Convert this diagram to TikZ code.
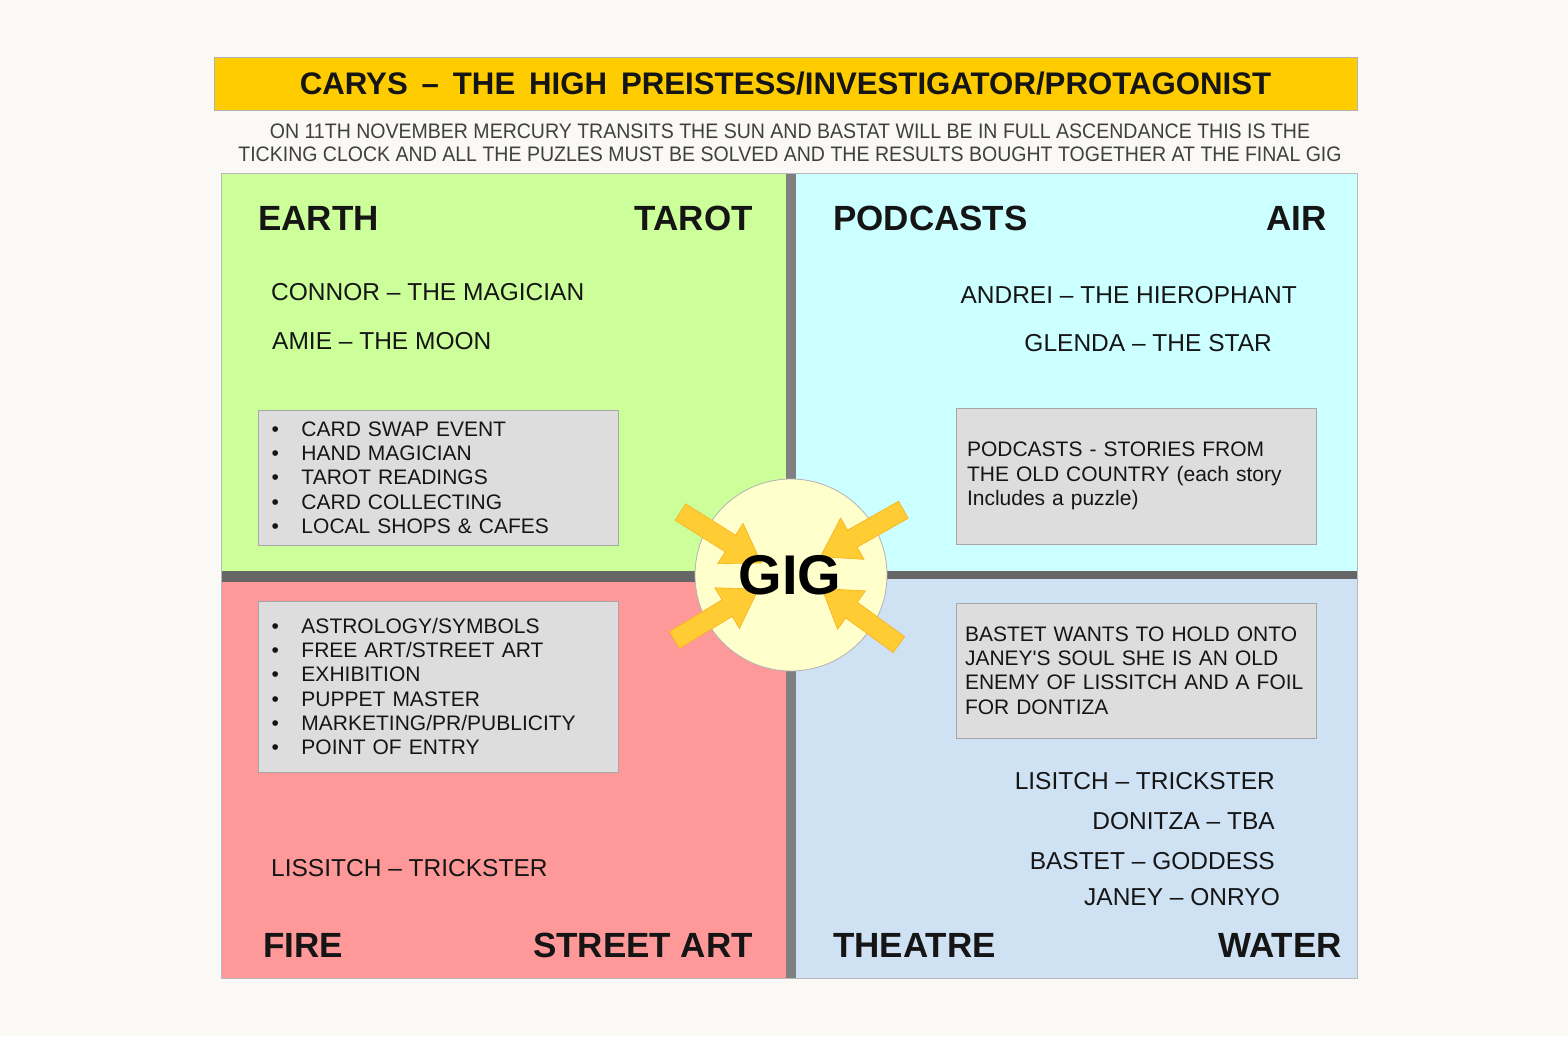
\documentclass[tikz,border=0pt]{standalone}
\usepackage{fontspec}
\setmainfont{Liberation Sans}
\newfontfamily\narrowsans{Liberation Sans}[FakeStretch=0.93]
\usepackage{tikz}
\usetikzlibrary{calc, shapes, shapes.arrows, arrows.meta}
\tikzset{>=latex}
\definecolor{paper}{HTML}{FAF9F5}
\definecolor{titleyellow}{HTML}{FFCC00}
\definecolor{earthgreen}{HTML}{CCFF99}
\definecolor{aircyan}{HTML}{CCFFFF}
\definecolor{firered}{HTML}{FF9999}
\definecolor{waterblue}{HTML}{CFE2F3}
\definecolor{notegray}{HTML}{DDDDDD}
\definecolor{bardark}{HTML}{666666}
\definecolor{barmid}{HTML}{808080}
\definecolor{gigcream}{HTML}{FFFFCC}
\definecolor{arrowgold}{HTML}{FFCC33}
\definecolor{arrowedge}{HTML}{F5B21F}
\definecolor{ink}{HTML}{151515}
\newcommand\bul{\hspace*{5pt}\makebox[30pt][l]{\textbullet}}
\tikzset{
  element/.style={font=\bfseries\fontsize{35}{40}\selectfont, text=ink, inner sep=0pt},
  person/.style={font=\fontsize{24.5}{28}\selectfont, text=ink, inner sep=0pt},
  notebox/.style={rectangle, fill=notegray, draw=gray!70, line width=0.8pt,
    text width=344pt, inner xsep=8pt, minimum height=#1, align=left,
    font=\fontsize{21}{24.3}\selectfont, text=ink},
  gigarrow/.style={single arrow, fill=arrowgold, draw=arrowedge, line width=0.6pt,
    inner sep=9.5pt, single arrow head extend=14pt, single arrow tip angle=66}
}
\begin{document}
\begin{tikzpicture}[x=1pt, y=-1pt]
\useasboundingbox[fill=paper] (0,0) rectangle (1568,1036);

\node[rectangle, fill=titleyellow, draw=gray!60, line width=0.8pt,
  minimum width=1143pt, minimum height=53pt,
  font=\bfseries\fontsize{31.2}{34}\selectfont, text=ink] (title) at (785.5,83.5)
  {CARYS \,–\, THE \,HIGH \,PREISTESS/INVESTIGATOR/PROTAGONIST};
\node[align=center, font=\narrowsans\fontsize{21}{23}\selectfont, text=black!75, inner sep=0pt]
  (clock) at (790,143)
  {ON 11TH NOVEMBER MERCURY TRANSITS THE SUN AND BASTAT WILL BE IN FULL ASCENDANCE THIS IS THE\\
   TICKING CLOCK AND ALL THE PUZLES MUST BE SOLVED AND THE RESULTS BOUGHT TOGETHER AT THE FINAL GIG};

\fill[earthgreen] (221,173) rectangle (791,577);
\fill[aircyan] (791,173) rectangle (1357,575);
\fill[firered] (221,577) rectangle (791,978);
\fill[waterblue] (791,575) rectangle (1357,978);
\fill[barmid] (786,173) rectangle (796,978);
\fill[bardark] (221,571) rectangle (791,582);
\fill[bardark] (791,571) rectangle (1357,579);
\draw[gray!55, line width=0.8pt] (221,173) rectangle (1357,978);

\node[element, anchor=base west] (earth) at (258,230) {EARTH};
\node[element, anchor=base east] (tarot) at (753,230) {TAROT};
\node[element, anchor=base west] (podcasts) at (833,230) {PODCASTS};
\node[element, anchor=base east] (air) at (1327,230) {AIR};
\node[element, anchor=base west] (fire) at (263,957) {FIRE};
\node[element, anchor=base east] (streetart) at (753,957) {STREET ART};
\node[element, anchor=base west] (theatre) at (833,957) {THEATRE};
\node[element, anchor=base east] (water) at (1342,957) {WATER};

\node[person, anchor=base west] (connor) at (271,300) {CONNOR – THE MAGICIAN};
\node[person, anchor=base west] (amie) at (272,349) {AMIE – THE MOON};
\node[person, anchor=base east] (andrei) at (1297,303) {ANDREI – THE HIEROPHANT};
\node[person, anchor=base east] (glenda) at (1272,351) {GLENDA – THE STAR};
\node[person, anchor=base west] (lissitch) at (271,876) {LISSITCH – TRICKSTER};
\node[person, anchor=base east] (lisitch) at (1275,789) {LISITCH – TRICKSTER};
\node[person, anchor=base east] (donitza) at (1275,829) {DONITZA – TBA};
\node[person, anchor=base east] (bastet) at (1275,869) {BASTET – GODDESS};
\node[person, anchor=base east] (janey) at (1280,905) {JANEY – ONRYO};

\node[notebox=135pt] (tarotnotes) at (438.5,477.5)
  {\bul CARD SWAP EVENT\\ \bul HAND MAGICIAN\\ \bul TAROT READINGS\\
   \bul CARD COLLECTING\\ \bul LOCAL SHOPS \& CAFES};
\node[notebox=136pt] (podnotes) at (1136,476)
  {\hspace*{3pt}PODCASTS - STORIES FROM\\ \hspace*{3pt}THE OLD COUNTRY (each story\\ \hspace*{3pt}Includes a puzzle)};
\node[notebox=171pt] (artnotes) at (438.5,686.5)
  {\bul ASTROLOGY/SYMBOLS\\ \bul FREE ART/STREET ART\\ \bul EXHIBITION\\
   \bul PUPPET MASTER\\ \bul MARKETING/PR/PUBLICITY\\ \bul POINT OF ENTRY};
\node[notebox=135pt] (stagenotes) at (1136,670.5)
  {\hspace*{1pt}BASTET WANTS TO HOLD ONTO\\ \hspace*{1pt}JANEY\textquotesingle S SOUL SHE IS AN OLD\\
   \hspace*{1pt}ENEMY OF LISSITCH AND A FOIL\\ \hspace*{1pt}FOR DONTIZA};

\node[circle, fill=gigcream, draw=gray!60, line width=0.8pt, minimum size=192pt] (gigdisc) at (791,575) {};
\foreach \nm/\tx/\ty/\hx/\hy in {UL/674/508/755/559, UR/910/506/827/553,
                                 LL/668/644/752/593, LR/905/649/828/593}
  \path let \p1=($(\hx,\hy)-(\tx,\ty)$), \n1={atan2(\y1,\x1)}, \n2={veclen(\x1,\y1)} in
    node[gigarrow, minimum height=\n2, rotate=\n1] (arrow\nm) at ($(\tx,\ty)!0.5!(\hx,\hy)$) {};
\node[font=\bfseries\fontsize{56}{60}\selectfont, text=black, inner sep=0pt] (gig) at (790,575) {GIG};
\end{tikzpicture}
\end{document}
